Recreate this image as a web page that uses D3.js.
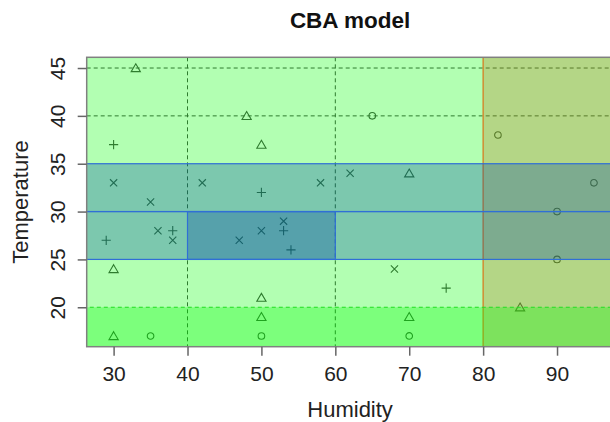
<!DOCTYPE html>
<html>
<head>
<meta charset="utf-8">
<script src="https://cdn.jsdelivr.net/npm/d3@7"></script>
<style>
  body { margin: 0; background: #fff; }
  svg { display: block; font-family: "Liberation Sans", Arial, sans-serif; }
</style>
</head>
<body>
<svg id="chart" width="610" height="422"></svg>
<script>
// observations: humidity, temperature, class (1 circle, 2 triangle, 3 plus, 4 cross)
const humidity = [33, 48, 65, 30, 50, 82, 30, 42, 58, 62, 70, 95, 50, 35, 53, 53, 50, 36, 38, 38,
  29, 47, 54, 90, 90, 30, 68, 75, 50, 85, 50, 70, 30, 35, 50, 70];
const temperature = [45, 40, 40, 37, 37, 38, 33, 33, 33, 34, 34, 33, 32, 31, 29, 28, 28, 28, 28, 27,
  27, 27, 26, 30, 25, 24, 24, 22, 21, 20, 19, 19, 17, 17, 17, 17];
const pointClass = [2, 2, 1, 3, 2, 1, 4, 4, 4, 4, 2, 1, 3, 4, 4, 3, 4, 4, 3, 4,
  3, 4, 3, 1, 1, 2, 4, 3, 2, 2, 2, 2, 2, 1, 1, 1];

// rule regions (null = unbounded)
const ruleHumidity = [[null, null], [80, null], [null, null], [null, null], [null, null], [40, 60]];
const ruleTemperature = [[null, null], [null, null], [null, 20], [25, 30], [30, 35], [25, 30]];
const ruleFill = ['rgba(0,255,0,0.3)', 'rgba(186,118,32,0.3)', 'rgba(0,255,0,0.3)',
  'rgba(0,72,166,0.3)', 'rgba(0,72,166,0.3)', 'rgba(0,72,166,0.3)'];
const ruleBorder = ['none', '#d57f24', '#22dd22', '#2f6fd6', '#2f6fd6', '#2f6fd6'];
const ruleDash = [null, null, '4,3', null, null, null];
// borders drawn over every fill (the others get covered by later fills)
const ruleBorderOnTop = [false, false, true, true, true, true];

const gridHumidity = [40, 60];
const gridTemperature = [40, 45];
const xTicks = [30, 40, 50, 60, 70, 80, 90];
const yTicks = [20, 25, 30, 35, 40, 45];

const svg = d3.select('#chart');
const plot = { left: 86.7, right: 613.5, top: 57.3, bottom: 346.7 };

const x = d3.scaleLinear().domain([26.36, 97.64]).range([plot.left, plot.right]);
const y = d3.scaleLinear().domain([15.88, 46.12]).range([plot.bottom, plot.top]);

svg.append('defs').append('clipPath').attr('id', 'clip')
  .append('rect')
  .attr('x', plot.left).attr('y', plot.top)
  .attr('width', plot.right - plot.left).attr('height', plot.bottom - plot.top);

const inner = svg.append('g').attr('clip-path', 'url(#clip)');
const ink = '#444';

// dashed guides
inner.selectAll('.vgrid').data(gridHumidity).enter().append('line')
  .attr('x1', d => x(d)).attr('x2', d => x(d))
  .attr('y1', plot.top).attr('y2', plot.bottom)
  .style('stroke', ink).style('stroke-dasharray', '4,3');
inner.selectAll('.hgrid').data(gridTemperature).enter().append('line')
  .attr('y1', d => y(d)).attr('y2', d => y(d))
  .attr('x1', plot.left).attr('x2', plot.right)
  .style('stroke', ink).style('stroke-dasharray', '4,3');

// points
const symbolPath = (cls, px, py) => {
  const p = d3.path();
  if (cls === 1) {
    p.moveTo(px + 3.3, py);
    p.arc(px, py, 3.3, 0, 2 * Math.PI);
  } else if (cls === 2) {
    p.moveTo(px, py - 4.3);
    p.lineTo(px + 4.6, py + 3.6);
    p.lineTo(px - 4.6, py + 3.6);
    p.closePath();
  } else if (cls === 3) {
    p.moveTo(px - 4.6, py); p.lineTo(px + 4.6, py);
    p.moveTo(px, py - 4.6); p.lineTo(px, py + 4.6);
  } else {
    p.moveTo(px - 3.6, py - 3.6); p.lineTo(px + 3.6, py + 3.6);
    p.moveTo(px - 3.6, py + 3.6); p.lineTo(px + 3.6, py - 3.6);
  }
  return p.toString();
};

inner.selectAll('.pt').data(d3.range(humidity.length)).enter().append('path')
  .attr('d', i => symbolPath(pointClass[i], x(humidity[i]), y(temperature[i])))
  .style('fill', 'none').style('stroke', ink).style('stroke-width', 1.1);

// rule overlays
const [hx0, hx1] = x.domain();
const [ty0, ty1] = y.domain();
const rx0 = i => x(ruleHumidity[i][0] ?? hx0 - 10);
const rx1 = i => x(ruleHumidity[i][1] ?? hx1 + 10);
const ry0 = i => y(ruleTemperature[i][1] ?? ty1 + 10);
const ry1 = i => y(ruleTemperature[i][0] ?? ty0 - 10);

const ruleRect = (sel) => sel
  .attr('x', rx0).attr('width', i => rx1(i) - rx0(i))
  .attr('y', ry0).attr('height', i => ry1(i) - ry0(i));

inner.selectAll('.rule').data(d3.range(ruleFill.length)).enter().append('rect')
  .call(ruleRect)
  .style('fill', i => ruleFill[i])
  .style('stroke', i => ruleBorderOnTop[i] ? 'none' : ruleBorder[i])
  .style('stroke-width', 1.3);

inner.selectAll('.rule-border').data(d3.range(ruleFill.length).filter(i => ruleBorderOnTop[i]))
  .enter().append('rect')
  .call(ruleRect)
  .style('fill', 'none')
  .style('stroke', i => ruleBorder[i])
  .style('stroke-width', 1.2)
  .style('stroke-dasharray', i => ruleDash[i]);

// frame
svg.append('rect')
  .attr('x', plot.left).attr('y', plot.top)
  .attr('width', plot.right - plot.left).attr('height', plot.bottom - plot.top)
  .style('fill', 'none').style('stroke', '#808080').style('stroke-width', 1.5);

// axes
const xAxis = svg.append('g')
  .attr('transform', `translate(0,${plot.bottom})`)
  .call(d3.axisBottom(x).tickValues(xTicks).tickSize(9).tickPadding(9).tickFormat(d3.format('d')));
xAxis.select('.domain').remove();
xAxis.selectAll('line').style('stroke', '#666').style('stroke-width', 1.5);
xAxis.selectAll('text').style('font-size', '21px').style('fill', '#222')
  .attr('dy', null).attr('y', 34);

const yAxis = svg.append('g')
  .attr('transform', `translate(${plot.left},0)`)
  .call(d3.axisLeft(y).tickValues(yTicks).tickSize(9).tickFormat(d3.format('d')));
yAxis.select('.domain').remove();
yAxis.selectAll('line').style('stroke', '#666').style('stroke-width', 1.5);
yAxis.selectAll('text')
  .attr('x', null).attr('dy', null)
  .attr('transform', 'translate(-22,0) rotate(-90)')
  .attr('text-anchor', 'middle')
  .style('font-size', '21px').style('fill', '#222');

// labels
const midX = (plot.left + plot.right) / 2;
const midY = (plot.top + plot.bottom) / 2;

svg.append('text')
  .attr('x', midX).attr('y', 28)
  .attr('text-anchor', 'middle')
  .style('font-size', '22.5px').style('font-weight', 'bold').style('fill', '#111')
  .text('CBA model');

svg.append('text')
  .attr('x', midX).attr('y', 417)
  .attr('text-anchor', 'middle')
  .style('font-size', '22px').style('fill', '#222')
  .text('Humidity');

svg.append('text')
  .attr('transform', `translate(28,${midY}) rotate(-90)`)
  .attr('text-anchor', 'middle')
  .style('font-size', '22px').style('fill', '#222')
  .text('Temperature');
</script>
</body>
</html>
